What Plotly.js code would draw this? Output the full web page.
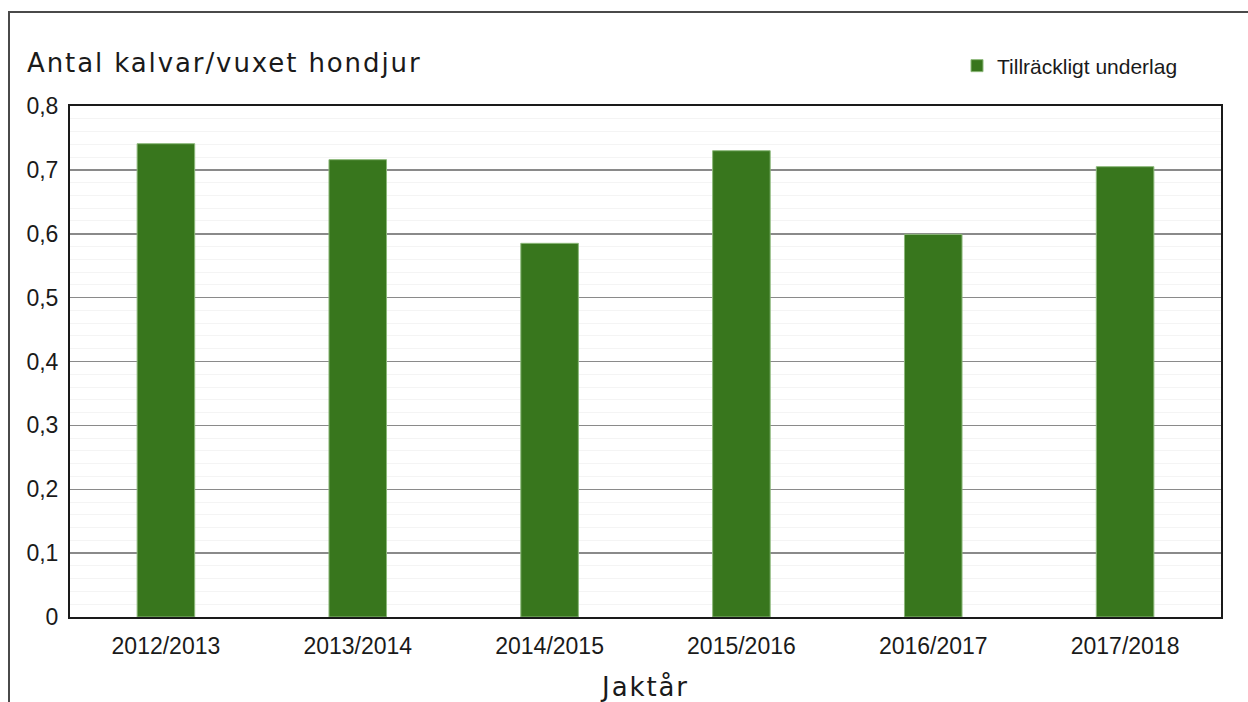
<!DOCTYPE html>
<html>
<head>
<meta charset="utf-8">
<script src="https://cdn.plot.ly/plotly-3.0.1.min.js"></script>
<style>
  html, body { margin: 0; padding: 0; background: #fff; }
  #wrap { position: relative; width: 1248px; height: 702px; }
  #chart { position: absolute; left: 0; top: 0; width: 1248px; height: 702px; }
  #frame { position: absolute; left: 8px; top: 11px; width: 1240px; height: 700px;
           border-top: 2px solid #4a4a4a; border-left: 2px solid #4a4a4a; pointer-events: none; }
  #chart .gtitle, #chart .g-xtitle text { letter-spacing: 1.9px; }
</style>
</head>
<body>
<div id="wrap">
  <div id="chart"></div>
  <div id="frame"></div>
</div>
<script>
const categories = ['2012/2013', '2013/2014', '2014/2015', '2015/2016', '2016/2017', '2017/2018'];
const values = [0.741, 0.716, 0.585, 0.730, 0.599, 0.705];
const seriesName = 'Tillräckligt underlag';
const yTickVals = [0, 0.1, 0.2, 0.3, 0.4, 0.5, 0.6, 0.7, 0.8];
const yTickText = ['0', '0,1', '0,2', '0,3', '0,4', '0,5', '0,6', '0,7', '0,8'];

const labelFont = '"Liberation Sans Narrow", "Arial Narrow", "Liberation Sans", Arial, sans-serif';
const titleFont = '"DejaVu Sans", Verdana, sans-serif';

const trace = {
  type: 'bar',
  x: categories,
  y: values,
  name: seriesName,
  marker: { color: '#38761d', line: { color: '#8cb87a', width: 1 } },
  showlegend: true,
  hoverinfo: 'x+y'
};

const layout = {
  width: 1248,
  height: 702,
  margin: { l: 70, r: 27, t: 106, b: 85, pad: 0 },
  paper_bgcolor: '#ffffff',
  plot_bgcolor: '#ffffff',
  bargap: 0.7,
  separators: ',.',
  title: {
    text: 'Antal kalvar/vuxet hondjur',
    font: { family: titleFont, size: 26, color: '#1a1a1a' },
    xref: 'container', yref: 'container',
    x: 27 / 1248, xanchor: 'left',
    y: 1 - 63 / 702, yanchor: 'middle'
  },
  xaxis: {
    type: 'category',
    showline: true, linecolor: '#1a1a1a', linewidth: 2, mirror: true,
    ticks: '', showgrid: false,
    ticklabelstandoff: 7,
    tickfont: { family: labelFont, size: 23, color: '#1a1a1a' },
    title: { text: 'Jaktår', font: { family: titleFont, size: 26, color: '#1a1a1a' }, standoff: 20 },
    fixedrange: true
  },
  yaxis: {
    range: [0, 0.8],
    tickvals: yTickVals,
    ticktext: yTickText,
    showline: true, linecolor: '#1a1a1a', linewidth: 2, mirror: true,
    ticks: '', ticklabelstandoff: 5,
    showgrid: true, gridcolor: '#8a8a8a', gridwidth: 1.5,
    zeroline: false,
    minor: { dtick: 0.02, showgrid: true, gridcolor: '#f4f4f4', gridwidth: 1 },
    tickfont: { family: labelFont, size: 23, color: '#1a1a1a' },
    fixedrange: true
  },
  legend: {
    x: 1183 / 1248, xref: 'container', xanchor: 'right',
    y: 1 - 66 / 702, yref: 'container', yanchor: 'middle',
    orientation: 'h',
    font: { family: labelFont, size: 21, color: '#1a1a1a' },
    bgcolor: 'rgba(0,0,0,0)',
    itemwidth: 30
  },
  showlegend: true
};

Plotly.newPlot('chart', [trace], layout, { displayModeBar: false, staticPlot: true });
</script>
</body>
</html>
